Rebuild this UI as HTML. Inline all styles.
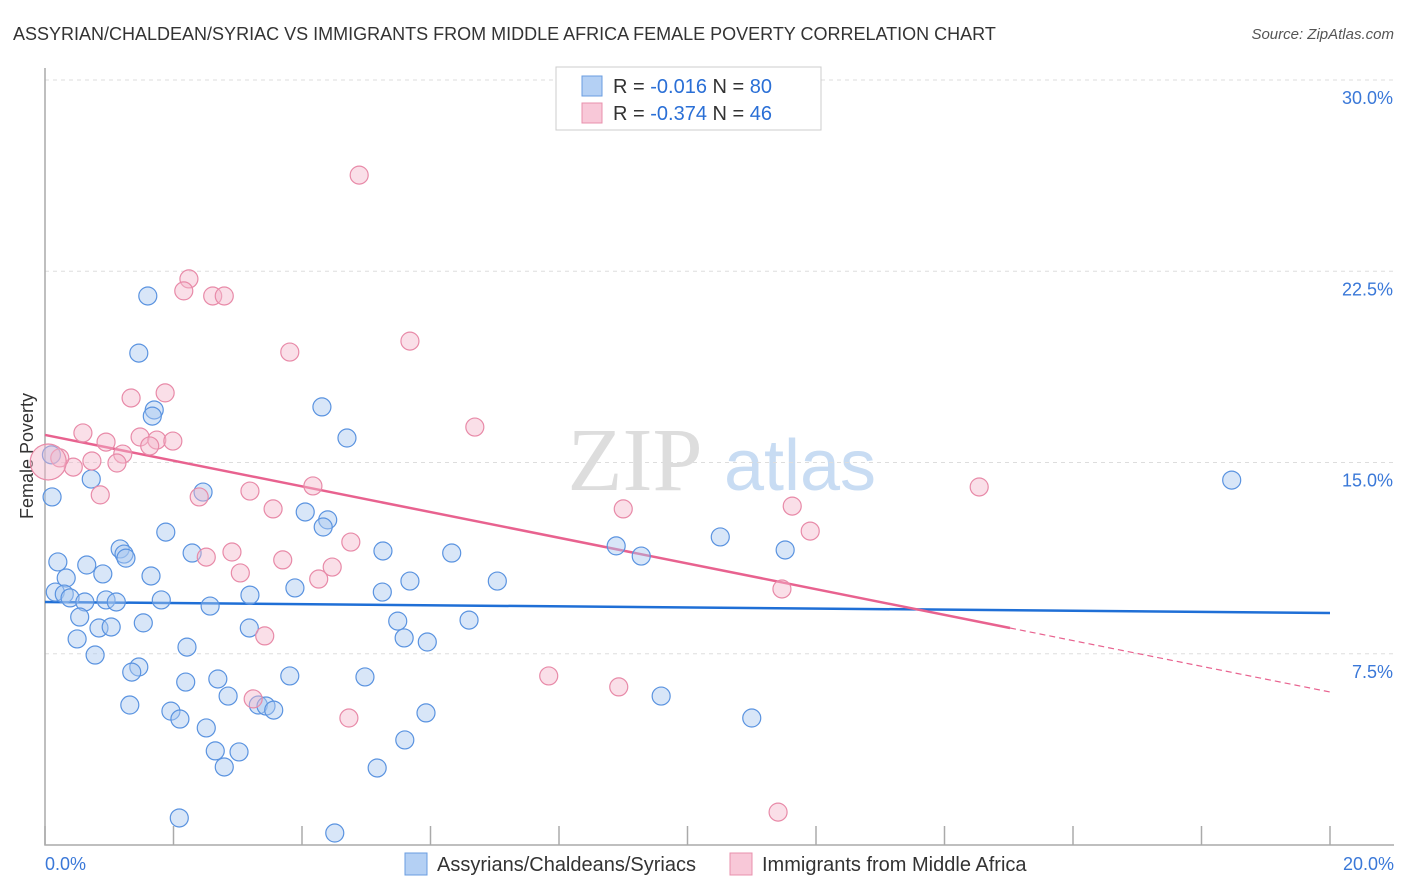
<!DOCTYPE html>
<html><head><meta charset="utf-8"><style>
body{margin:0;background:#fff;font-family:"Liberation Sans",sans-serif;}
svg{display:block}
</style></head><body>
<svg id="chart" width="1406" height="892" viewBox="0 0 1406 892">
<text x="13" y="40" font-size="18" fill="#333">ASSYRIAN/CHALDEAN/SYRIAC VS IMMIGRANTS FROM MIDDLE AFRICA FEMALE POVERTY CORRELATION CHART</text>
<text x="1394" y="39" font-size="15" fill="#555" font-style="italic" text-anchor="end">Source: ZipAtlas.com</text>
<text x="0" y="0" font-size="18" fill="#333" text-anchor="middle" transform="translate(33,456) rotate(-90)">Female Poverty</text>
<g>
<text x="635" y="490" font-size="90" fill="#ddd" font-family="Liberation Serif,serif" text-anchor="middle">ZIP</text>
<text x="800" y="490" font-size="72" fill="#c8dcf3" text-anchor="middle">atlas</text>
</g>
<g id="grid"></g><g id="axes"></g><g id="lines"></g><g id="pts"></g>
<g>
<rect x="556" y="67" width="265" height="63" fill="#fff" stroke="#ccc"/>
<rect x="582" y="76" width="20" height="20" fill="#b4d0f4" stroke="#6a9de0"/>
<text x="613" y="93" font-size="20" fill="#333">R = <tspan fill="#2a6fd6">-0.016</tspan>   N = <tspan fill="#2a6fd6">80</tspan></text>
<rect x="582" y="103" width="20" height="20" fill="#f8c8d8" stroke="#e890ac"/>
<text x="613" y="120" font-size="20" fill="#333">R = <tspan fill="#2a6fd6">-0.374</tspan>   N = <tspan fill="#2a6fd6">46</tspan></text>
</g>
<g>
<rect x="405" y="853" width="22" height="22" fill="#b4d0f4" stroke="#6a9de0"/>
<text x="437" y="871" font-size="20" fill="#333">Assyrians/Chaldeans/Syriacs</text>
<rect x="730" y="853" width="22" height="22" fill="#f8c8d8" stroke="#e890ac"/>
<text x="762" y="871" font-size="20" fill="#333">Immigrants from Middle Africa</text>
</g>
</svg>
<script>
const yTicks=[7.5,15,22.5,30];
const yTickLabels=["7.5%","15.0%","22.5%","30.0%"];
const xTicks=[0,2,4,6,8,10,12,14,16,18,20];
const xLabelsEnds=["0.0%","20.0%"];
const blueX=[1.60,1.46,1.70,1.67,4.31,4.70,0.72,0.11,2.46,1.88,4.05,4.40,4.33,1.17,1.23,1.26,2.29,0.20,0.65,5.26,6.33,8.89,9.28,10.51,11.52,18.47,0.33,0.90,1.65,5.68,7.04,3.89,0.16,0.30,0.39,0.62,0.95,1.11,1.81,2.57,3.19,5.25,0.54,0.84,1.03,1.53,3.18,5.49,6.60,5.59,5.95,0.50,0.78,2.21,1.46,1.35,4.98,3.81,2.69,2.19,2.85,9.59,1.32,1.96,2.10,3.32,3.44,3.56,5.93,2.51,11.00,2.65,3.02,5.60,2.79,5.17,2.09,4.51,0.10];
const blueY=[21.53,19.29,17.06,16.82,17.18,15.96,14.35,13.65,13.84,12.27,13.06,12.75,12.47,11.61,11.41,11.25,11.45,11.10,10.98,11.53,11.45,11.73,11.33,12.08,11.57,14.31,10.47,10.63,10.55,10.35,10.35,10.08,9.92,9.84,9.69,9.53,9.61,9.53,9.61,9.37,9.80,9.92,8.94,8.51,8.55,8.71,8.51,8.78,8.82,8.12,7.96,8.08,7.45,7.76,6.98,6.78,6.59,6.63,6.51,6.39,5.84,5.84,5.49,5.25,4.94,5.49,5.45,5.29,5.18,4.59,4.98,3.69,3.65,4.12,3.06,3.02,1.06,0.47,15.3];
const pinkX=[4.89,2.24,2.16,2.61,2.79,3.81,5.68,1.87,1.34,6.69,0.59,0.95,1.48,1.74,1.99,1.63,1.21,0.73,1.12,0.44,0.23,0.86,2.40,3.19,4.17,3.55,9.00,11.63,14.54,11.91,4.76,2.91,2.51,3.70,3.04,4.47,4.26,11.47,3.42,7.84,8.93,3.24,4.73,11.41,0.05];
const pinkY=[26.27,22.20,21.73,21.53,21.53,19.33,19.76,17.73,17.53,16.39,16.16,15.80,16.00,15.88,15.84,15.65,15.33,15.06,14.98,14.82,15.18,13.73,13.65,13.88,14.08,13.18,13.18,13.29,14.04,12.31,11.88,11.49,11.29,11.18,10.67,10.90,10.43,10.04,8.20,6.63,6.20,5.73,4.98,1.29,15.02];
const blueTrend=[9.53,9.10];
const pinkTrend=[16.08,6.0];
const pinkSolidEnd=15.02;
const NS="http://www.w3.org/2000/svg";
const xs=v=>45+v*64.25, ys=v=>845-v*25.5;
function mk(p,t,a){const e=document.createElementNS(NS,t);for(const k in a)e.setAttribute(k,a[k]);document.getElementById(p).appendChild(e);return e;}
yTicks.forEach((t,i)=>{
 const g=mk('grid','line',{x1:45,x2:1394,y1:ys(t),y2:ys(t),stroke:'#ddd','stroke-dasharray':'4,4'});
 
 
 const l=mk('grid','text',{x:1393,y:ys(t)+24,'font-size':18,fill:'#3a78d8','text-anchor':'end'});
 l.textContent=yTickLabels[i];
 
 
});
const ax=mk('axes','path',{d:'M45,68V845H1394',fill:'none',stroke:'#aaa','stroke-width':1.5});


xTicks.forEach(t=>{
 const tk=mk('axes','line',{x1:xs(t),x2:xs(t),y1:826,y2:845,stroke:'#aaa','stroke-width':1.5});
 
 
});
[[0,'start',45],[1,'end',1394]].forEach(([i,a,x])=>{
 const l=mk('axes','text',{x:x,y:870,'font-size':18,fill:'#3a78d8','text-anchor':a});
 l.textContent=xLabelsEnds[i];
 
 
});
function drawPts(X,Y,fill,stroke,name){
 X.forEach((x,i)=>{
  const big=(name==='pink-point'&&i===X.length-1);
  const c=mk('pts','circle',{cx:xs(x),cy:ys(Y[i]),r:big?18:9,fill:fill,'fill-opacity':0.45,stroke:stroke,'stroke-width':1.2});
  
  
 });
}
drawPts(blueX,blueY,'#a8c8f0','#5a93e0','blue-point');
drawPts(pinkX,pinkY,'#f5b8cc','#e88aa8','pink-point');
const bl=mk('lines','line',{x1:xs(0),y1:ys(blueTrend[0]),x2:xs(20),y2:ys(blueTrend[1]),stroke:'#1f6fd6','stroke-width':2.5});


const py=x=>pinkTrend[0]+(pinkTrend[1]-pinkTrend[0])*x/20;
const pl=mk('lines','line',{x1:xs(0),y1:ys(pinkTrend[0]),x2:xs(pinkSolidEnd),y2:ys(py(pinkSolidEnd)),stroke:'#e8628f','stroke-width':2.5});


const pd=mk('lines','line',{x1:xs(pinkSolidEnd),y1:ys(py(pinkSolidEnd)),x2:xs(20),y2:ys(pinkTrend[1]),stroke:'#e8628f','stroke-width':1.2,'stroke-dasharray':'6,4'});


</script>
</body></html>
